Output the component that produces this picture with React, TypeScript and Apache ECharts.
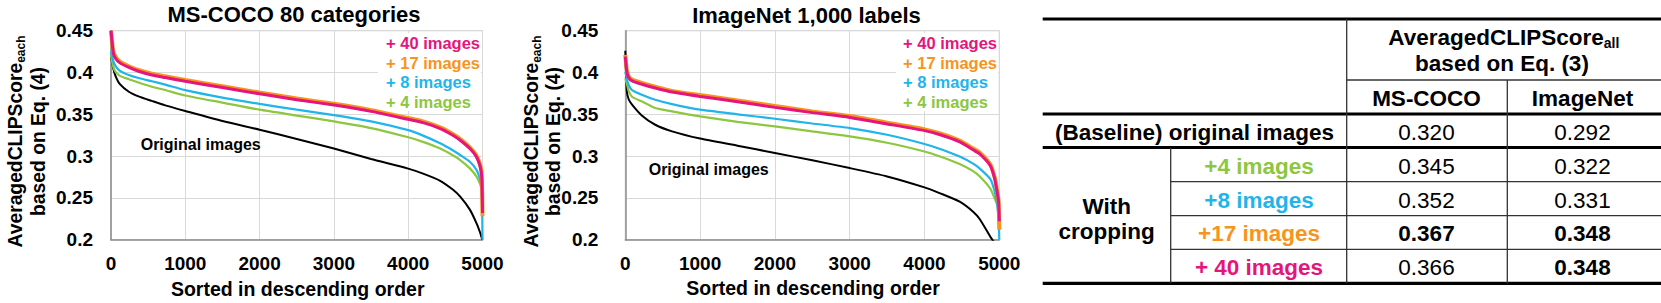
import React, { useEffect, useRef } from "react";
import * as echarts from "echarts";

// ---------- data ----------
const xTicks = [0, 1000, 2000, 3000, 4000, 5000];
const yTicks = [0.2, 0.25, 0.3, 0.35, 0.4, 0.45];

const chartTitles = ["MS-COCO 80 categories", "ImageNet 1,000 labels"];
const xAxisName = "Sorted in descending order";
const yAxisMain = "AveragedCLIPScore";
const yAxisSub = "each";
const yAxisLine2 = "based on Eq. (4)";
const seriesNames = ["+ 40 images", "+ 17 images", "+ 8 images", "+ 4 images"];
const originalLabel = "Original images";

// MS-COCO (sorted index -> score)
const xsCoco = [0, 30, 60, 120, 240, 370, 550, 730, 1000, 1500, 2000, 2500, 3000, 3500, 4000, 4200, 4430, 4600, 4700, 4830, 4920, 4970, 4990, 5000];
const coco40 = [0.45, 0.424, 0.417, 0.4115, 0.406, 0.4015, 0.397, 0.394, 0.3895, 0.382, 0.3745, 0.3675, 0.361, 0.3535, 0.344, 0.34, 0.333, 0.325, 0.319, 0.309, 0.299, 0.287, 0.275, 0.232];
const coco17 = [0.45, 0.426, 0.419, 0.413, 0.4075, 0.403, 0.3985, 0.3955, 0.391, 0.3835, 0.376, 0.369, 0.3625, 0.355, 0.3455, 0.3415, 0.3345, 0.3265, 0.3205, 0.3105, 0.3005, 0.289, 0.277, 0.228];
const coco8 = [0.425, 0.414, 0.408, 0.402, 0.397, 0.3934, 0.3895, 0.3855, 0.379, 0.37, 0.3625, 0.3555, 0.349, 0.3415, 0.331, 0.3245, 0.3153, 0.307, 0.3013, 0.2933, 0.2834, 0.2714, 0.262, 0.2];
const coco4 = [0.42, 0.407, 0.401, 0.396, 0.392, 0.388, 0.383, 0.379, 0.3725, 0.364, 0.3555, 0.3485, 0.3415, 0.3335, 0.3225, 0.317, 0.309, 0.301, 0.2953, 0.2853, 0.2754, 0.266, 0.26, 0.257];
const cocoOrig = [0.419, 0.405, 0.396, 0.386, 0.377, 0.3715, 0.366, 0.3607, 0.354, 0.342, 0.3316, 0.3205, 0.309, 0.2965, 0.285, 0.279, 0.2705, 0.26, 0.2515, 0.236, 0.2196, 0.208, 0.202, 0.2];

// ImageNet
const xsInet = [0, 20, 45, 90, 220, 400, 625, 1000, 1500, 2000, 2500, 3000, 3500, 4000, 4210, 4470, 4650, 4740, 4880, 4940, 4970, 4990, 5000];
const inet40 = [0.419, 0.401, 0.394, 0.39, 0.386, 0.3814, 0.3766, 0.3714, 0.365, 0.3583, 0.352, 0.3463, 0.3385, 0.3305, 0.3255, 0.317, 0.3075, 0.3025, 0.2885, 0.2725, 0.2575, 0.246, 0.222];
const inet17 = [0.421, 0.403, 0.3955, 0.3915, 0.3875, 0.383, 0.378, 0.373, 0.3665, 0.36, 0.3535, 0.348, 0.34, 0.332, 0.327, 0.3185, 0.309, 0.304, 0.29, 0.274, 0.259, 0.2475, 0.212];
const inet8 = [0.401, 0.393, 0.385, 0.379, 0.3734, 0.3674, 0.3622, 0.3555, 0.35, 0.3447, 0.339, 0.3335, 0.3255, 0.3145, 0.3085, 0.2995, 0.291, 0.285, 0.2725, 0.257, 0.242, 0.226, 0.2];
const inet4 = [0.393, 0.387, 0.378, 0.371, 0.3655, 0.3575, 0.3535, 0.3475, 0.341, 0.3356, 0.3295, 0.3236, 0.316, 0.3055, 0.2995, 0.2905, 0.282, 0.2755, 0.261, 0.249, 0.243, 0.24, null];
const inetOrig = [0.426, 0.378, 0.368, 0.3615, 0.3486, 0.3375, 0.3296, 0.321, 0.3125, 0.3037, 0.295, 0.2857, 0.2757, 0.2626, 0.2555, 0.2455, 0.2335, 0.2245, 0.2036, 0.196, null, null, null];

// Table
const tableHeaderMain = "AveragedCLIPScore";
const tableHeaderSub = "all";
const tableHeaderLine2 = "based on Eq. (3)";
const tableColumns = ["MS-COCO", "ImageNet"];
const baselineLabel = "(Baseline) original images";
const baselineValues = ["0.320", "0.292"];
const groupLabel = ["With", "cropping"];
const rowLabels = ["+4 images", "+8 images", "+17 images", "+ 40 images"];
const cocoAll = ["0.345", "0.352", "0.367", "0.366"];
const inetAll = ["0.322", "0.331", "0.348", "0.348"];
const cocoBold = [false, false, true, false];
const inetBold = [false, false, true, true];

// ---------- style ----------
const FONT = '"Liberation Sans", Arial, Helvetica, sans-serif';
const C_PINK = "#E4157D";
const C_ORANGE = "#F7941D";
const C_BLUE = "#1FB5EA";
const C_GREEN = "#8DC63F";
const C_BLACK = "#000000";
const legendColors = [C_PINK, C_ORANGE, C_BLUE, C_GREEN];
const rowColors = [C_GREEN, C_BLUE, C_ORANGE, C_PINK];

function measure(text: string, size: number, bold = true) {
  const c = document.createElement("canvas").getContext("2d");
  if (!c) return text.length * size * 0.55;
  c.font = `${bold ? "bold " : ""}${size}px "Liberation Sans", Arial, sans-serif`;
  return c.measureText(text).width;
}

function txt(text: string, x: number, y: number, size: number, color: string, bold = true, align = "center", valign = "middle", z = 10) {
  return {
    type: "text",
    x,
    y,
    z,
    silent: true,
    style: {
      text,
      fill: color,
      fontSize: size,
      fontWeight: bold ? "bold" : "normal",
      fontFamily: FONT,
      align,
      verticalAlign: valign,
      textAlign: align,
      textVerticalAlign: valign,
    },
  };
}

function pairs(xs: number[], ys: (number | null)[]) {
  const out: number[][] = [];
  xs.forEach((x, i) => {
    const v = ys[i];
    if (v !== null && v !== undefined) out.push([x, v]);
  });
  return out;
}

function yTitle(cx: number, cy: number, half: number) {
  const mainSize = 19.3;
  const subSize = 12;
  const wMain = measure(yAxisMain, mainSize);
  const wSub = measure(yAxisSub, subSize);
  const start = -(wMain + wSub) / 2;
  return {
    type: "group",
    x: cx,
    y: cy,
    rotation: Math.PI / 2,
    z: 10,
    children: [
      txt(yAxisMain, start, -half, mainSize, C_BLACK, true, "left"),
      txt(yAxisSub, start + wMain, -half + 5, subSize, C_BLACK, true, "left"),
      txt(yAxisLine2, 0, half, 19.3, C_BLACK, true, "center"),
    ],
  };
}

function hline(x1: number, x2: number, y: number, w: number, color = "#000") {
  return { type: "line", z: 10, silent: true, shape: { x1, y1: y, x2, y2: y }, style: { stroke: color, lineWidth: w } };
}
function vline(x: number, y1: number, y2: number, w: number, color = "#333") {
  return { type: "line", z: 10, silent: true, shape: { x1: x, y1, x2: x, y2 }, style: { stroke: color, lineWidth: w } };
}

function buildOption() {
  const grids = [
    { left: 111, top: 30.7, width: 371.5, height: 209 },
    { left: 625.3, top: 30.7, width: 374, height: 209 },
  ];
  const yLabelMargins = [18, 27];

  const xAxis = grids.map((_, i) => ({
    type: "value",
    gridIndex: i,
    min: xTicks[0],
    max: xTicks[xTicks.length - 1],
    interval: xTicks[1] - xTicks[0],
    axisLine: { show: true, lineStyle: { color: "#8c8c8c", width: 1.5 } },
    axisTick: { show: false },
    splitLine: { show: true, lineStyle: { color: "#d9d9d9", width: 1 } },
    axisLabel: {
      fontSize: 19,
      fontWeight: "bold",
      color: "#000",
      fontFamily: FONT,
      margin: 14,
      formatter: (v: number) => String(Math.round(v)),
    },
  }));
  const yAxis = grids.map((_, i) => ({
    type: "value",
    gridIndex: i,
    min: yTicks[0],
    max: yTicks[yTicks.length - 1],
    interval: 0.05,
    axisLine: { show: true, lineStyle: { color: "#8c8c8c", width: 1.5 } },
    axisTick: { show: false },
    splitLine: { show: true, lineStyle: { color: "#d9d9d9", width: 1 } },
    axisLabel: {
      fontSize: 19,
      fontWeight: "bold",
      color: "#000",
      fontFamily: FONT,
      margin: yLabelMargins[i],
      formatter: (v: number) => String(parseFloat(v.toFixed(2))),
    },
  }));

  const mkSeries = (idx: number, xs: number[], data: (number | null)[], color: string, width: number, z: number) => ({
    type: "line",
    xAxisIndex: idx,
    yAxisIndex: idx,
    data: pairs(xs, data),
    showSymbol: false,
    symbol: "none",
    smooth: 0.2,
    silent: true,
    z,
    clip: true,
    lineStyle: { color, width },
    itemStyle: { color },
  });

  const series = [
    mkSeries(0, xsCoco, cocoOrig, C_BLACK, 2, 2),
    mkSeries(0, xsCoco, coco4, C_GREEN, 2.2, 3),
    mkSeries(0, xsCoco, coco8, C_BLUE, 2.2, 4),
    mkSeries(0, xsCoco, coco17, C_ORANGE, 4, 5),
    mkSeries(0, xsCoco, coco40, C_PINK, 3, 6),
    mkSeries(1, xsInet, inetOrig, C_BLACK, 2, 2),
    mkSeries(1, xsInet, inet4, C_GREEN, 2.2, 3),
    mkSeries(1, xsInet, inet8, C_BLUE, 2.2, 4),
    mkSeries(1, xsInet, inet17, C_ORANGE, 4, 5),
    mkSeries(1, xsInet, inet40, C_PINK, 3, 6),
  ];

  const g: any[] = [];
  // chart titles
  g.push(txt(chartTitles[0], 294, 14.5, 22, C_BLACK));
  g.push(txt(chartTitles[1], 806.5, 15, 22, C_BLACK));
  // x axis names
  g.push(txt(xAxisName, 297.7, 289, 19.5, C_BLACK));
  g.push(txt(xAxisName, 813, 287.5, 19.5, C_BLACK));
  // y axis titles
  g.push(yTitle(27.3, 141.5, 11.6));
  g.push(yTitle(542.5, 141.5, 10.8));
  // legend boxes
  g.push({ type: "rect", z: 1, silent: true, shape: { x: 378, y: 33, width: 103, height: 78 }, style: { fill: "#fff" } });
  g.push({ type: "rect", z: 1, silent: true, shape: { x: 896, y: 33, width: 102, height: 78 }, style: { fill: "#fff" } });
  const legendY = [43, 62.5, 82, 102];
  seriesNames.forEach((n, i) => {
    g.push(txt(n, 386, legendY[i], 16.5, legendColors[i], true, "left"));
    g.push(txt(n, 903, legendY[i], 16.5, legendColors[i], true, "left"));
  });
  g.push(txt(originalLabel, 140.7, 144.7, 16, C_BLACK, true, "left"));
  g.push(txt(originalLabel, 648.7, 169.7, 16, C_BLACK, true, "left"));

  // ---------- table ----------
  const L = 1042.7, R = 1661, c1 = 1170.7, c2 = 1346.7, c3 = 1507.3;
  const yTop = 19, yHead = 80, yH2 = 114, yBase = 147.5, yBot = 283.3;
  const rowLines = [181.7, 215.7, 249.3];
  g.push(hline(L, R, yTop, 3));
  g.push(hline(L, R, yH2, 3));
  g.push(hline(L, R, yBase, 3));
  g.push(hline(L, R, yBot, 3.2));
  g.push(hline(c2, R, yHead, 1.3, "#333"));
  rowLines.forEach((y) => g.push(hline(c1, R, y, 1.3, "#333")));
  g.push(vline(c2, yTop, yBot, 1.3));
  g.push(vline(c3, yHead, yBot, 1.3));
  g.push(vline(c1, yBase, yBot, 1.3));

  const TS = 22.5;
  // header
  const wHM = measure(tableHeaderMain, TS);
  const wHS = measure(tableHeaderSub, 14);
  const hStart = (c2 + R) / 2 - (wHM + wHS) / 2;
  g.push(txt(tableHeaderMain, hStart, 37, TS, C_BLACK, true, "left"));
  g.push(txt(tableHeaderSub, hStart + wHM, 43, 14, C_BLACK, true, "left"));
  g.push(txt(tableHeaderLine2, 1502, 63, TS, C_BLACK));
  const colX = [1426.5, 1582.5];
  tableColumns.forEach((c, i) => g.push(txt(c, colX[i], 98.3, TS, C_BLACK)));
  g.push(txt(baselineLabel, 1194.5, 132.3, TS, C_BLACK));
  baselineValues.forEach((v, i) => g.push(txt(v, colX[i], 132.3, TS, C_BLACK, false)));
  g.push(txt(groupLabel[0], 1106.7, 206, TS, C_BLACK));
  g.push(txt(groupLabel[1], 1106.7, 231.5, TS, C_BLACK));
  const rowY = [166, 200, 233.3, 267.3];
  rowLabels.forEach((r, i) => {
    g.push(txt(r, 1259, rowY[i], TS, rowColors[i]));
    g.push(txt(cocoAll[i], colX[0], rowY[i], TS, C_BLACK, cocoBold[i]));
    g.push(txt(inetAll[i], colX[1], rowY[i], TS, C_BLACK, inetBold[i]));
  });

  return {
    animation: false,
    backgroundColor: "#fff",
    grid: grids.map((gr) => ({ ...gr, show: true, borderColor: "#c4c4c4", borderWidth: 1, containLabel: false })),
    xAxis,
    yAxis,
    series,
    graphic: { elements: g },
  };
}

export default function App() {
  const ref = useRef<HTMLDivElement>(null);
  useEffect(() => {
    if (!ref.current) return;
    const chart = echarts.init(ref.current, null, { renderer: "svg", width: 1661, height: 303 });
    chart.setOption(buildOption() as any);
    return () => chart.dispose();
  }, []);
  return (
    <div
      ref={ref}
      style={{ position: "absolute", left: 0, top: 0, width: 1661, height: 303, background: "#fff" }}
    />
  );
}
